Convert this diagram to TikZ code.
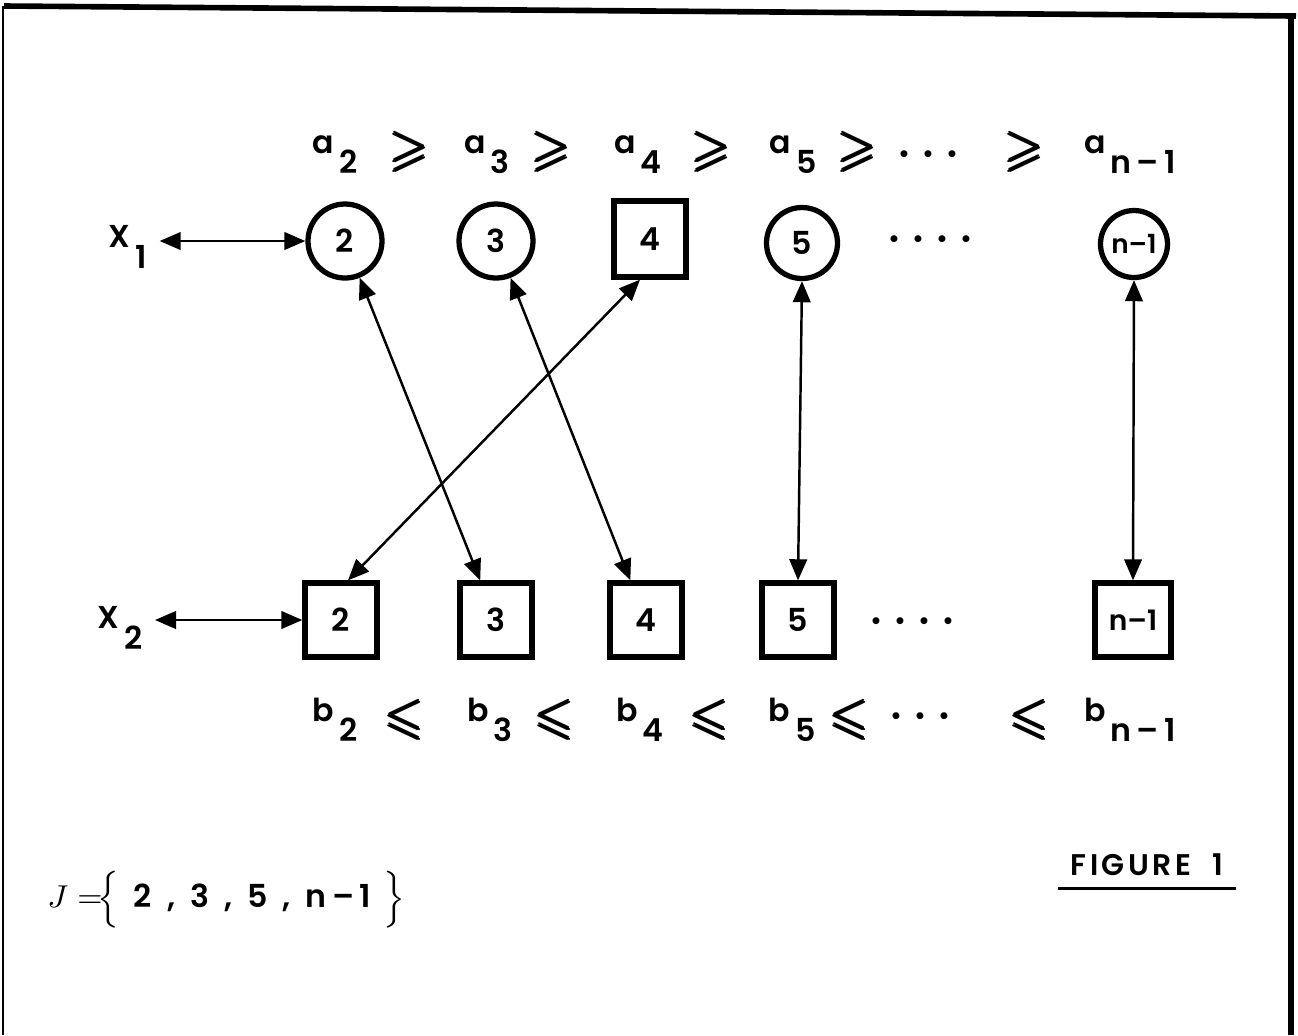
\documentclass[tikz,border=0pt]{standalone}
\usepackage{amsmath,amssymb}
\usepackage{fontspec}
\setmainfont{Poppins}[BoldFont={Poppins SemiBold}]
\usetikzlibrary{arrows.meta}

% letter with its index set low, as typed
\newcommand{\lowidx}[2]{#1\,\raisebox{-1.15ex}{#2}}
% heavy dot of the ellipses
\newcommand{\hdot}{\scalebox{0.55}{$\bullet$}}

\begin{document}
\begin{tikzpicture}[x=1cm, y=1cm,
  font=\fontsize{9}{10}\selectfont\bfseries,
  ring/.style={draw, circle, line width=1.5pt, minimum size=0.74cm, inner sep=0pt},
  box/.style={draw, rectangle, line width=1.5pt, minimum width=0.72cm, minimum height=0.74cm, inner sep=0pt},
  link/.style={{Triangle[length=6pt,width=5pt]}-{Triangle[length=6pt,width=5pt]}, line width=0.7pt},
  rel/.style={font=\Large}]
  \useasboundingbox (0,0) rectangle (12.98,-10.35);

  % Frame
  \draw[line width=1.6pt] (0.04,-0.06) -- (12.96,-0.16);
  \draw[line width=0.6pt] (0.03,-0.06) -- (0.03,-10.35);
  \draw[line width=1.6pt] (12.91,-0.15) -- (12.91,-10.35);

  % Upper row: a-values
  \node (a2) at (3.35,-1.55) {\lowidx{a}{2}};
  \node[rel] (g1) at (4.10,-1.52) {$\pmb{\geqslant}$};
  \node (a3) at (4.87,-1.55) {\lowidx{a}{3}};
  \node[rel] (g2) at (5.52,-1.52) {$\pmb{\geqslant}$};
  \node (a4) at (6.38,-1.55) {\lowidx{a}{4}};
  \node[rel] (g3) at (7.12,-1.52) {$\pmb{\geqslant}$};
  \node (a5) at (7.93,-1.55) {\lowidx{a}{5}};
  \node[rel] (g4) at (8.58,-1.52) {$\pmb{\geqslant}$};
  \node (ad) at (9.28,-1.55) {\hdot\ \ \hdot\ \ \hdot};
  \node[rel] (g5) at (10.25,-1.52) {$\pmb{\geqslant}$};
  \node (an) at (11.30,-1.55) {\lowidx{a}{n\,–\,1}};

  % Upper row: nodes
  \node (x1) at (1.28,-2.47) {\lowidx{X}{1}};
  \node[ring] (c2) at (3.45,-2.41) {2};
  \node[ring] (c3) at (4.96,-2.41) {3};
  \node[box, minimum height=0.76cm] (s4t) at (6.50,-2.39) {4};
  \node[ring, minimum size=0.71cm] (c5) at (8.02,-2.43) {5};
  \node (td) at (9.30,-2.40) {\hdot\ \ \hdot\ \ \hdot\ \ \hdot};
  \node[ring, minimum size=0.67cm, font=\fontsize{7.5}{8}\selectfont\bfseries] (cn) at (11.34,-2.44) {n–1};

  % Lower row: nodes
  \node (x2) at (1.20,-6.28) {\lowidx{X}{2}};
  \node[box] (s2) at (3.41,-6.20) {2};
  \node[box] (s3) at (4.96,-6.20) {3};
  \node[box] (s4) at (6.46,-6.20) {4};
  \node[box] (s5) at (7.98,-6.20) {5};
  \node (bd) at (9.12,-6.22) {\hdot\ \ \hdot\ \ \hdot\ \ \hdot};
  \node[box, minimum width=0.76cm, font=\fontsize{8}{9}\selectfont\bfseries] (sn) at (11.33,-6.20) {n–1};

  % Lower row: b-values
  \node (b2) at (3.35,-7.20) {\lowidx{b}{2}};
  \node[rel] (l1) at (4.05,-7.20) {$\pmb{\leqslant}$};
  \node (b3) at (4.90,-7.20) {\lowidx{b}{3}};
  \node[rel] (l2) at (5.55,-7.20) {$\pmb{\leqslant}$};
  \node (b4) at (6.40,-7.20) {\lowidx{b}{4}};
  \node[rel] (l3) at (7.10,-7.20) {$\pmb{\leqslant}$};
  \node (b5) at (7.92,-7.20) {\lowidx{b}{5}};
  \node[rel] (l4) at (8.50,-7.20) {$\pmb{\leqslant}$};
  \node (bdd) at (9.20,-7.17) {\hdot\ \ \hdot\ \ \hdot};
  \node[rel] (l5) at (10.30,-7.20) {$\pmb{\leqslant}$};
  \node (bn) at (11.30,-7.20) {\lowidx{b}{n\,–\,1}};

  % Links
  \draw[link] (x1.east |- c2.west) -- (c2.west);
  \draw[link] (x2.east |- s2.west) -- (s2.west);
  \draw[link] (c2) -- (s3);
  \draw[link] (c3) -- (s4);
  \draw[link] ([xshift=-1mm]s4t.south) -- ([xshift=0.7mm]s2.north);
  \draw[link] (c5.south) -- (s5.north);
  \draw[link] (cn.south) -- (sn.north);

  % Set J and caption
  \node[anchor=west] (jset) at (0.35,-9.00) {$J\;{=}\!\Big\{$\ \ 2\ \ ,\ \ 3\ \ ,\ \ 5\ \ ,\ \ n\,–\,1\ \,$\Big\}$};
  \node[font=\fontsize{8.5}{9}\selectfont\bfseries] (fig) at (11.47,-8.65) {F\kern1pt I\kern1pt G\kern1pt U\kern1pt R\kern1pt E\ \ \ 1};
  \draw[line width=1pt] (fig.south west) -- (fig.south east);
\end{tikzpicture}
\end{document}
